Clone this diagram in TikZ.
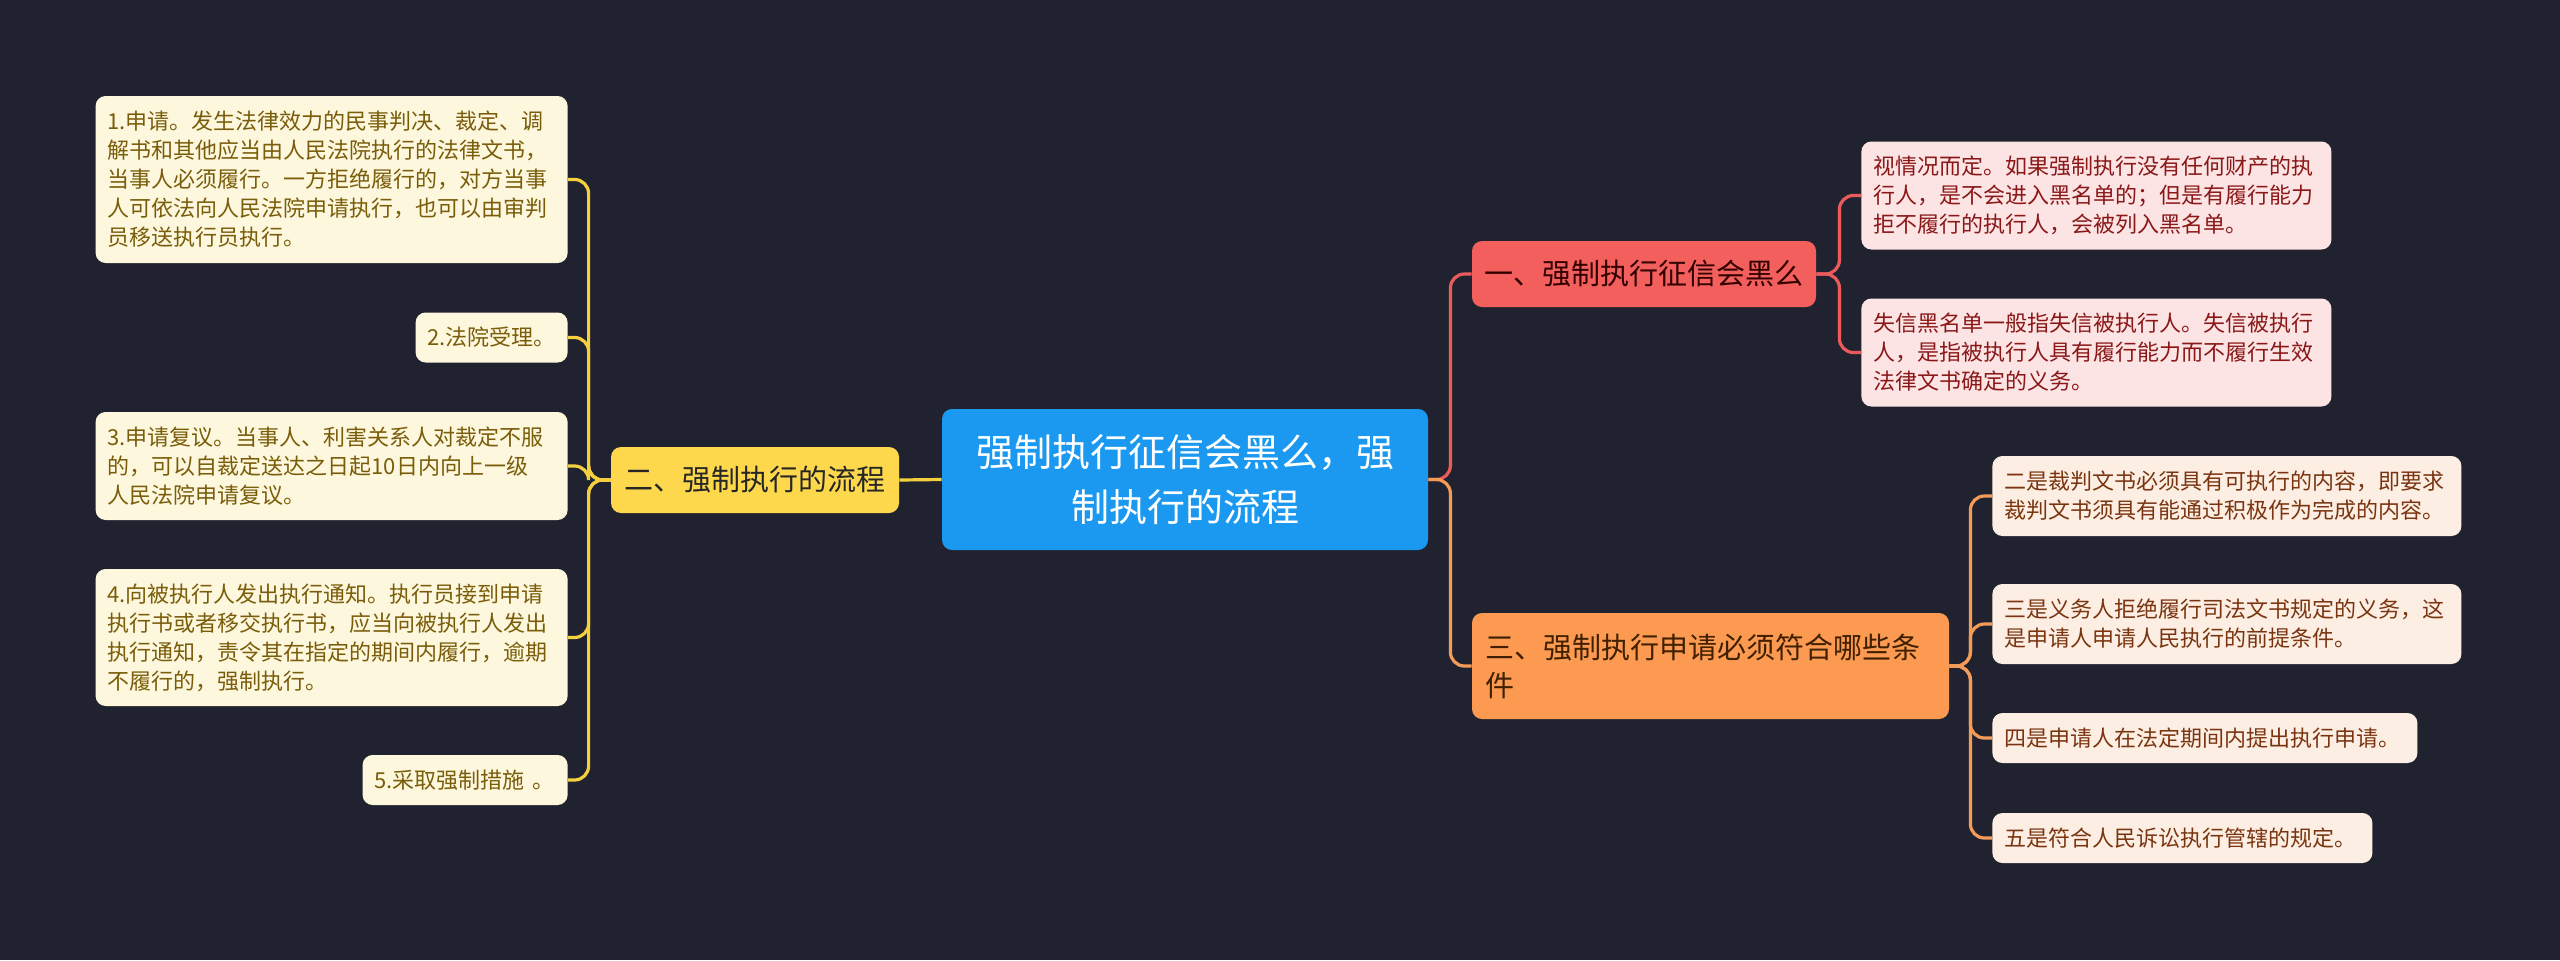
\documentclass[tikz,border=0pt]{standalone}
\usepackage{fontspec}
\setmainfont{Noto Sans CJK SC}
\usetikzlibrary{positioning}

\definecolor{bgcol}{HTML}{20232F}
\definecolor{rootblue}{HTML}{1B98EF}
\definecolor{yelfill}{HTML}{FDD84C}
\definecolor{yelline}{HTML}{F4D03F}
\definecolor{creamfill}{HTML}{FDF7DD}
\definecolor{olivetext}{HTML}{7A5D0A}
\definecolor{redfill}{HTML}{F25F5C}
\definecolor{redline}{HTML}{EC5B5B}
\definecolor{pinkfill}{HTML}{FDE4E4}
\definecolor{maroontext}{HTML}{8A1818}
\definecolor{orgfill}{HTML}{FD9A52}
\definecolor{orgline}{HTML}{F39B57}
\definecolor{peachfill}{HTML}{FDEEE3}
\definecolor{browntext}{HTML}{7A3510}

\begin{document}
\begin{tikzpicture}[
          x=0.5pt, y=-0.5pt,
          box/.style={rounded corners=5pt, inner xsep=6pt, inner ysep=0pt, align=left},
          rootbox/.style={box, fill=rootblue, text=white, align=center,
                          font=\fontsize{19pt}{27.5pt}\selectfont,
                          minimum width=243pt, minimum height=70.5pt},
          branch/.style={box, align=center, minimum height=33pt,
                         font=\fontsize{14.5pt}{19pt}\selectfont},
          leaf/.style={box, font=\fontsize{11pt}{14.5pt}\selectfont, minimum height=25pt},
          lleaf/.style={leaf, fill=creamfill, text=olivetext, anchor=east},
          rleaf/.style={leaf, fill=pinkfill, text=maroontext, anchor=west},
          oleaf/.style={leaf, fill=peachfill, text=browntext, anchor=west},
          link/.style={line width=1.6pt, rounded corners=7pt}
        ]
        \fill[bgcol] (0,0) rectangle (2560,960);
        \useasboundingbox (0,0) rectangle (2560,960);

        % centre and main branches
        \node[rootbox] (root) at (1185,479.5) {强制执行征信会黑么，强\\制执行的流程};
        \node[branch, fill=yelfill, text=black!85, minimum width=144pt] (flow) at (755,480) {二、强制执行的流程};
        \node[branch, fill=redfill, text=black!80!red, minimum width=172pt] (credit) at (1644,274) {一、强制执行征信会黑么};
        \node[branch, fill=orgfill, text=black!75!orange, align=left, text width=225.5pt,
              inner xsep=6.5pt, minimum height=53pt] (cond) at (1710.5,666)
          {三、强制执行申请必须符合哪些条\\件};

        % left side
        \node[lleaf, text width=224pt, minimum height=83.5pt] (step1) at (568,179.5)
          {1.申请。发生法律效力的民事判决、裁定、调\\解书和其他应当由人民法院执行的法律文书，\\当事人必须履行。一方拒绝履行的，对方当事\\人可依法向人民法院申请执行，也可以由审判\\员移送执行员执行。};
        \node[lleaf, text width=64pt] (step2) at (568,337.5) {2.法院受理。};
        \node[lleaf, text width=224pt, minimum height=54pt] (step3) at (568,466)
          {3.申请复议。当事人、利害关系人对裁定不服\\的，可以自裁定送达之日起10日内向上一级\\人民法院申请复议。};
        \node[lleaf, text width=224pt, minimum height=68.5pt] (step4) at (568,637.5)
          {4.向被执行人发出执行通知。执行员接到申请\\执行书或者移交执行书，应当向被执行人发出\\执行通知，责令其在指定的期间内履行，逾期\\不履行的，强制执行。};
        \node[lleaf, text width=90.5pt] (step5) at (568,780) {5.采取强制措施 。};

        % right side, top
        \node[rleaf, text width=223pt, minimum height=54pt] (black1) at (1861,195.5)
          {视情况而定。如果强制执行没有任何财产的执\\行人，是不会进入黑名单的；但是有履行能力\\拒不履行的执行人，会被列入黑名单。};
        \node[rleaf, text width=223pt, minimum height=54pt] (black2) at (1861,352.5)
          {失信黑名单一般指失信被执行人。失信被执行\\人，是指被执行人具有履行能力而不履行生效\\法律文书确定的义务。};

        % right side, bottom
        \node[oleaf, text width=222.5pt, minimum height=40pt] (cond2) at (1992,496)
          {二是裁判文书必须具有可执行的内容，即要求\\裁判文书须具有能通过积极作为完成的内容。};
        \node[oleaf, text width=222.5pt, minimum height=40pt] (cond3) at (1992,624)
          {三是义务人拒绝履行司法文书规定的义务，这\\是申请人申请人民执行的前提条件。};
        \node[oleaf, text width=200.5pt] (cond4) at (1992,738) {四是申请人在法定期间内提出执行申请。};
        \node[oleaf, text width=178pt] (cond5) at (1992,838) {五是符合人民诉讼执行管辖的规定。};

        % connectors
        \draw[link, yelline] (root.west) -- (flow.east);
        \foreach \n in {step1,step2,step3,step4,step5}
          \draw[link, yelline] (flow.west) -- ++(-22,0) |- (\n.east);
        \draw[link, redline] (root.east) -- ++(22,0) |- (credit.west);
        \draw[link, orgline] (root.east) -- ++(22,0) |- (cond.west);
        \foreach \n in {black1,black2}
          \draw[link, redline] (credit.east) -- ++(23,0) |- (\n.west);
        \foreach \n in {cond2,cond3,cond4,cond5}
          \draw[link, orgline] (cond.east) -- ++(21,0) |- (\n.west);
      \end{tikzpicture}
\end{document}
